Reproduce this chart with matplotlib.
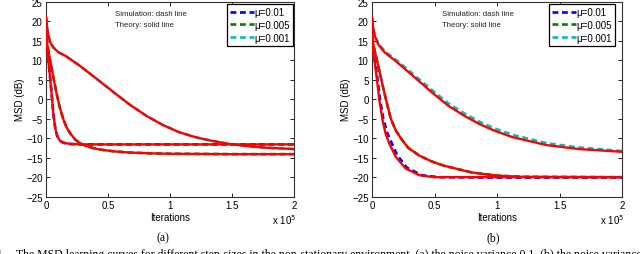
import matplotlib
matplotlib.use("Agg")
import matplotlib.pyplot as plt
import numpy as np

plt.rcParams['font.family'] = ['Liberation Sans', 'DejaVu Sans']

# step-size labels and colours (sim. = dashed, theory = solid red)
labels = ['μ=0.01', 'μ=0.005', 'μ=0.001']
colors = ['#0000ff', '#008000', '#00bfbf']

# ---- panel (a): iterations in units of 1e5, MSD in dB ----
a_x_blue = [0, 0.005, 0.01, 0.027, 0.045, 0.06, 0.075, 0.09, 0.11, 0.14, 0.2, 0.3, 0.6, 1.0, 1.5, 2.0]
a_y_blue = [20.5, 14, 12, 7.5, 1.5, -4, -7.5, -9.4, -10.6, -11.2, -11.5, -11.6, -11.6, -11.6, -11.6, -11.6]
a_x_green = [0, 0.005, 0.01, 0.03, 0.06, 0.085, 0.11, 0.14, 0.17, 0.2, 0.24, 0.28, 0.35, 0.43,
             0.55, 0.68, 0.85, 1.0, 1.5, 2.0]
a_y_green = [20.5, 15.5, 14, 10.5, 5.5, 1.5, -2, -5.2, -7.5, -9.0, -10.5, -11.4, -12.3, -12.9,
             -13.4, -13.7, -13.9, -14.0, -14.1, -14.1]
a_x_cyan = [0, 0.01, 0.02, 0.035, 0.06, 0.1, 0.16, 0.27, 0.4, 0.54, 0.67, 0.81, 0.94, 1.075,
            1.21, 1.34, 1.48, 1.61, 1.75, 2.0]
a_y_cyan = [21, 18, 16.2, 14.5, 13.2, 12.0, 11.0, 8.6, 5.4, 1.9, -1.3, -4.3, -6.6, -8.5,
            -9.8, -10.7, -11.5, -12.0, -12.4, -12.8]

# ---- panel (b) ----
b_x_blue_th = [0, 0.005, 0.01, 0.03, 0.06, 0.085, 0.11, 0.14, 0.19, 0.27, 0.38, 0.5, 1.0, 2.0]
b_y_blue_th = [20.5, 14, 12, 7.5, -0.5, -5.5, -9, -11.5, -14.8, -17.8, -19.5, -20, -20, -20]
b_x_blue_sim = [0, 0.005, 0.01, 0.03, 0.064, 0.09, 0.12, 0.144, 0.2, 0.28, 0.4, 0.53, 1.0, 2.0]
b_y_blue_sim = [20.5, 14.5, 12.5, 8.5, 0, -5, -8.5, -10.3, -14.3, -17.6, -19.5, -20, -20.1, -20.1]
b_x_green = [0, 0.005, 0.01, 0.05, 0.085, 0.115, 0.15, 0.19, 0.23, 0.29, 0.38, 0.48, 0.58,
             0.8, 1.0, 1.2, 2.0]
b_y_green = [20.5, 15.5, 14, 8.5, 3.5, -0.5, -5, -8.0, -10.0, -12.5, -14.5, -16.0, -17.1,
             -18.8, -19.6, -19.9, -20]
b_x_cyan = [0, 0.01, 0.024, 0.05, 0.1, 0.21, 0.34, 0.48, 0.61, 0.74, 0.86, 0.98, 1.13, 1.4, 1.66, 2.0]
b_y_cyan_th = [21, 18, 16, 14, 12, 9.2, 5.6, 1.7, -1.7, -4.3, -6.4, -8.1, -9.8, -11.8, -12.8, -13.5]
b_y_cyan_sim = [20.5, 18.2, 16.3, 14.3, 12.3, 9.6, 6.1, 2.3, -1.1, -3.7, -5.8, -7.5, -9.2, -11.3, -12.4, -13.3]

yticks = [-25, -20, -15, -10, -5, 0, 5, 10, 15, 20, 25]
xticks = [0, 0.5, 1, 1.5, 2]

fig = plt.figure(figsize=(6.4, 2.55), dpi=100)
W, H = 640.0, 255.0
ax1 = fig.add_axes([46 / W, 1 - 197.7 / H, 248 / W, 195.2 / H])
ax2 = fig.add_axes([372 / W, 1 - 197.7 / H, 250 / W, 195.2 / H])

dash = (2.2, 1.4)
panels = [
    (ax1, [(a_x_blue, a_y_blue, a_x_blue, a_y_blue),
           (a_x_green, a_y_green, a_x_green, a_y_green),
           (a_x_cyan, a_y_cyan, a_x_cyan, a_y_cyan)], 0.996),
    (ax2, [(b_x_blue_sim, b_y_blue_sim, b_x_blue_th, b_y_blue_th),
           (b_x_green, b_y_green, b_x_green, b_y_green),
           (b_x_cyan, b_y_cyan_sim, b_x_cyan, b_y_cyan_th)], 0.972),
]

for ax, curves, legx in panels:
    handles = []
    for (xs, ys, xt, yt), c, lab in zip(curves, colors, labels):
        h, = ax.plot(np.array(xs) * 1e5, ys, color=c, lw=1.9, dashes=dash, label=lab, zorder=2)
        handles.append(h)
    for (xs, ys, xt, yt) in curves:
        ax.plot(np.array(xt) * 1e5, yt, color='red', lw=1.7, zorder=3)
    ax.set_xlim(0, 2e5)
    ax.set_ylim(-25, 25)
    ax.set_yticks(yticks)
    ax.set_xticks([v * 1e5 for v in xticks])
    ax.set_xticklabels(['0', '0.5', '1', '1.5', '2'])
    ax.tick_params(direction='in', top=True, right=True, length=3, width=0.6,
                   labelsize=7, pad=2.5)
    for s in ax.spines.values():
        s.set_linewidth(0.8)
        s.set_color('#333333')
    ax.set_xlabel('Iterations', fontsize=7, labelpad=1)
    ax.set_ylabel('MSD (dB)', fontsize=7, labelpad=1)
    ax.text(1.008, -0.114, 'x 10$^5$', transform=ax.transAxes, ha='right', va='center', fontsize=7)
    ax.text(0.56e5, 21.8, 'Simulation: dash line', fontsize=5.6, va='center', color='#222222')
    ax.text(0.56e5, 19.2, 'Theory: solid line', fontsize=5.6, va='center', color='#222222')
    leg = ax.legend(handles=handles, loc='upper right', bbox_to_anchor=(legx, 0.987),
                    borderaxespad=0, fontsize=7, handlelength=2.4, handletextpad=0.1,
                    labelspacing=0.3, borderpad=0.3, fancybox=False, framealpha=1)
    leg.get_frame().set_edgecolor('black')
    leg.get_frame().set_linewidth(0.9)

serif = ['Liberation Serif', 'DejaVu Serif']
fig.text(163 / W, 1 - 238 / H, '(a)', family=serif, fontsize=8.5, ha='center', va='center')
fig.text(493 / W, 1 - 238 / H, '(b)', family=serif, fontsize=8.5, ha='center', va='center')
fig.text(5 / W, 1 - 249 / H, 'Fig. 1.', family=serif, fontsize=8.5, ha='right', va='top')
fig.text(16 / W, 1 - 249 / H,
         'The MSD learning curves for different step-sizes in the non-stationary environment. '
         '(a) the noise variance 0.1, (b) the noise variance 0.01.',
         family=serif, fontsize=8.5, ha='left', va='top')

fig.savefig('out.png', dpi=100)
